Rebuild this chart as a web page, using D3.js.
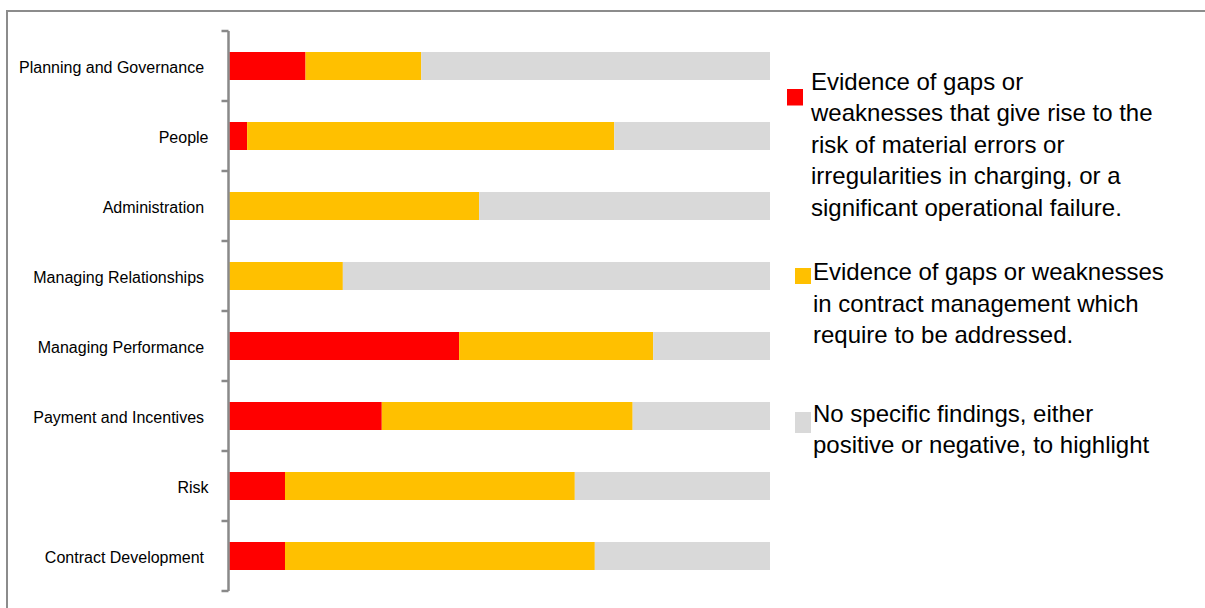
<!DOCTYPE html>
<html>
<head>
<meta charset="utf-8">
<script src="https://cdn.jsdelivr.net/npm/d3@7"></script>
<style>
  body { margin: 0; background: #fff; }
  text { font-family: Arial, "Liberation Sans", sans-serif; fill: #000; }
  .cat text { white-space: pre; }
</style>
</head>
<body>
<div id="chart"></div>
<script>
// categories, top to bottom
const categories = [
    "Planning and Governance ",
    "People",
    "Administration ",
    "Managing Relationships ",
    "Managing Performance ",
    "Payment and Incentives ",
    "Risk",
    "Contract Development "
]

// share of each category (percent)
const redValues    = [14.1, 3.3, 0, 0, 42.5, 28.2, 10.3, 10.3]
const orangeValues = [21.4, 67.9, 46.2, 21.0, 35.9, 46.4, 53.6, 57.3]
const greyValues   = redValues.map((r, i) => +(100 - r - orangeValues[i]).toFixed(1))

const seriesKeys = ["red", "orange", "grey"]
const colors = ["#ff0000", "#ffc000", "#d9d9d9"]

const legendLines = [
    ["Evidence of gaps or", "weaknesses that give rise to the", "risk of material errors or",
     "irregularities in charging, or a", "significant operational failure."],
    ["Evidence of gaps or weaknesses", "in contract management which", "require to be addressed."],
    ["No specific findings, either", "positive or negative, to highlight"]
]

const fullWidth = 1205;
const fullHeight = 608;

const rows = categories.map((c, i) => ({
    cat: c,
    red: redValues[i],
    orange: orangeValues[i],
    grey: greyValues[i]
}))

const svg = d3.select("#chart")
              .append("svg")
              .attr("width", fullWidth)
              .attr("height", fullHeight)

// outer frame (runs off the right and bottom edges)
svg.append("rect")
   .attr("x", 7).attr("y", 11)
   .attr("width", 1210).attr("height", 620)
   .attr("fill", "none")
   .attr("stroke", "#8c8c8c")
   .attr("stroke-width", 2)

const catScale = d3.scaleBand()
                   .domain(categories)
                   .range([31, 591])
                   .padding(0)

const valScale = d3.scaleLinear()
                   .domain([0, 100])
                   .range([229.3, 770])

const barHeight = 28;

const stack = d3.stack().keys(seriesKeys)(rows)

const barHolder = svg.append("g").classed("bar-holder", true)

barHolder.selectAll("g.series")
         .data(stack)
         .enter()
         .append("g")
         .classed("series", true)
         .attr("fill", (d, i) => colors[i])
         .selectAll("rect")
         .data(d => d)
         .enter()
         .append("rect")
         .attr("x", d => valScale(d[0]))
         .attr("width", d => valScale(d[1]) - valScale(d[0]))
         .attr("y", d => catScale(d.data.cat) + catScale.bandwidth() / 2 - barHeight / 2)
         .attr("height", barHeight)

// category axis: spine plus ticks at the band boundaries
const axis = svg.append("g").classed("y axis", true)
const axisX = valScale(0) - 0.8
const boundaries = categories.map(c => catScale(c)).concat([catScale.range()[1]])

axis.append("line")
    .attr("x1", axisX).attr("x2", axisX)
    .attr("y1", boundaries[0]).attr("y2", boundaries[boundaries.length - 1])
    .attr("stroke", "#898989")
    .attr("stroke-width", 2.5)

axis.selectAll("line.tick")
    .data(boundaries)
    .enter()
    .append("line")
    .classed("tick", true)
    .attr("x1", axisX - 7).attr("x2", axisX)
    .attr("y1", d => d).attr("y2", d => d)
    .attr("stroke", "#898989")
    .attr("stroke-width", 2.5)

svg.append("g").classed("cat", true)
   .selectAll("text")
   .data(categories)
   .enter()
   .append("text")
   .attr("x", 208.5)
   .attr("y", d => catScale(d) + catScale.bandwidth() / 2 + 7)
   .attr("text-anchor", "end")
   .style("font-size", "16px")
   .text(d => d)

// legend
const legendTop = [89, 268, 412]
const legendText = [811, 813, 813]
const legendBox = [[787, 16, 16.5], [795, 16, 16], [795, 16, 21]]
const legend = svg.append("g").classed("legend", true)

legendLines.forEach((lines, i) => {
    legend.append("rect")
          .attr("x", legendBox[i][0])
          .attr("y", legendTop[i])
          .attr("width", legendBox[i][1])
          .attr("height", legendBox[i][2])
          .attr("fill", colors[i])

    const firstBaseline = [89.5, 280, 421.5][i]
    legend.append("text")
          .attr("x", legendText[i])
          .attr("y", firstBaseline)
          .style("font-size", "24px")
          .selectAll("tspan")
          .data(lines)
          .enter()
          .append("tspan")
          .attr("x", legendText[i])
          .attr("dy", (d, j) => j === 0 ? 0 : 31.5)
          .text(d => d)
})
</script>
</body>
</html>
